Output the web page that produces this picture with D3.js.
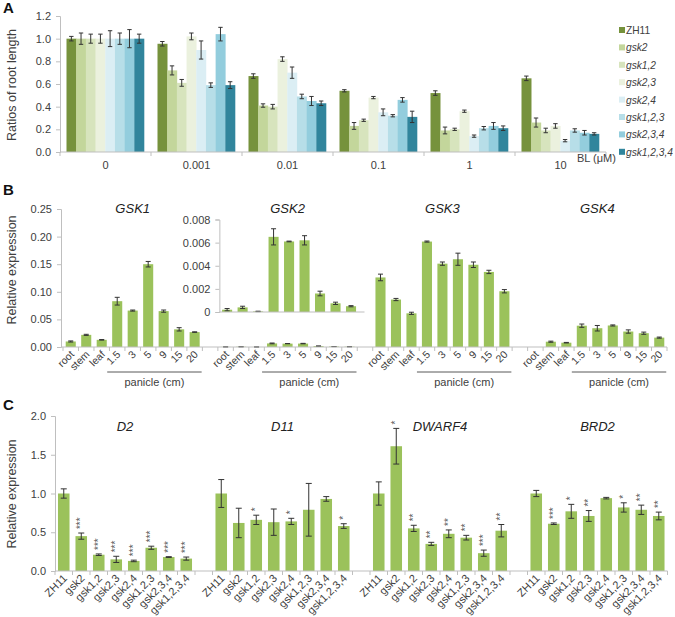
<!DOCTYPE html>
<html><head><meta charset="utf-8">
<script src="https://cdn.jsdelivr.net/npm/d3@7"></script>
<style>
body{margin:0;background:#fff}
text{font-family:"Liberation Sans",Arial,sans-serif}
</style>
</head><body><script>
// ---------------- Panel A data ----------------
const doses = ["0","0.001","0.01","0.1","1","10"];
const genotypes = ["ZH11","gsk2","gsk1,2","gsk2,3","gsk2,4","gsk1,2,3","gsk2,3,4","gsk1,2,3,4"];
const genotypeColors = ["#76923C","#C3D69B","#D7E4BD","#EBF1DE","#DBEEF4","#B7DEE8","#93CDDD","#31859C"];
const ratioZH11   = [1.00,0.955,0.67,0.54,0.52,0.65];
const ratioGsk2   = [1.00,0.72,0.41,0.23,0.19,0.26];
const ratioGsk12  = [1.00,0.61,0.40,0.28,0.20,0.19];
const ratioGsk23  = [1.00,1.02,0.82,0.48,0.36,0.23];
const ratioGsk24  = [1.00,0.90,0.70,0.35,0.14,0.10];
const ratioGsk123 = [1.00,0.59,0.49,0.32,0.21,0.19];
const ratioGsk234 = [1.00,1.04,0.45,0.46,0.23,0.17];
const ratioGsk1234= [1.00,0.59,0.43,0.31,0.21,0.16];
const errZH11   = [0.02,0.02,0.02,0.01,0.02,0.02];
const errGsk2   = [0.05,0.04,0.015,0.03,0.03,0.04];
const errGsk12  = [0.04,0.03,0.02,0.01,0.01,0.02];
const errGsk23  = [0.04,0.03,0.02,0.01,0.01,0.02];
const errGsk24  = [0.07,0.08,0.05,0.03,0.01,0.01];
const errGsk123 = [0.05,0.02,0.02,0.01,0.015,0.015];
const errGsk234 = [0.08,0.06,0.04,0.02,0.03,0.02];
const errGsk1234= [0.04,0.03,0.02,0.05,0.02,0.01];
const ratioTicks = [0,0.2,0.4,0.6,0.8,1.0,1.2];

// ---------------- Panel B data ----------------
const tissues = ["root","stem","leaf","1.5","3","5","9","15","20"];
const genesB = ["GSK1","GSK2","GSK3","GSK4"];
const exprGSK1 = [0.010,0.022,0.013,0.083,0.066,0.150,0.065,0.032,0.027];
const errGSK1  = [0.001,0.001,0.0005,0.007,0.001,0.005,0.002,0.003,0.0005];
const exprGSK2 = [0.0002,0.0004,0.00005,0.0065,0.0061,0.0062,0.0016,0.00075,0.0005];
const errGSK2  = [0.0001,0.0001,0.00002,0.0007,0.00003,0.0004,0.0002,0.0001,0.00005];
const exprGSK3 = [0.126,0.086,0.061,0.191,0.151,0.159,0.149,0.136,0.101];
const errGSK3  = [0.006,0.002,0.002,0.001,0.003,0.011,0.005,0.003,0.003];
const exprGSK4 = [0,0.0096,0.0078,0.0386,0.034,0.039,0.028,0.025,0.017];
const errGSK4  = [0,0.001,0.0005,0.003,0.005,0.001,0.003,0.002,0.001];
const exprTicksB = [0,0.05,0.10,0.15,0.20,0.25];
const insetTicks = [0,0.002,0.004,0.006,0.008];

// ---------------- Panel C data ----------------
const genesC = ["D2","D11","DWARF4","BRD2"];
const exprD2   = [1.00,0.45,0.21,0.15,0.13,0.30,0.18,0.16];
const errD2    = [0.06,0.04,0.01,0.04,0.01,0.02,0.005,0.02];
const starsD2  = ["","***","***","***","***","***","***","***"];
const exprD11  = [1.00,0.62,0.66,0.63,0.64,0.79,0.93,0.58];
const errD11   = [0.18,0.19,0.06,0.17,0.04,0.34,0.03,0.03];
const starsD11 = ["","","*","","*","","","*"];
const exprDWF4 = [1.00,1.61,0.55,0.35,0.48,0.43,0.23,0.52];
const errDWF4  = [0.15,0.23,0.04,0.02,0.05,0.03,0.04,0.08];
const starsDWF4= ["","*","**","**","**","**","***","**"];
const exprBRD2 = [1.00,0.61,0.77,0.71,0.94,0.82,0.79,0.71];
const errBRD2  = [0.04,0.01,0.09,0.07,0.01,0.06,0.06,0.05];
const starsBRD2= ["","***","*","**","","*","**","**"];
const exprTicksC = [0,0.5,1.0,1.5,2.0];

// ---------------- drawing ----------------
const W=675,H=617;
const svg=d3.select("body").append("svg").attr("width",W).attr("height",H);
const axisCol="#BFBFBF", txt="#404040", errCol="#333333", barGreen="#9BC25B";

function styleAxis(g){
  g.select(".domain").attr("stroke",axisCol);
  g.selectAll(".tick line").attr("stroke",axisCol);
  g.selectAll(".tick text").attr("fill",txt).attr("font-size",11);
}
function errBar(g,x,y0,y1,cap){
  g.append("line").attr("x1",x).attr("x2",x).attr("y1",y0).attr("y2",y1).attr("stroke",errCol).attr("stroke-width",1);
  g.append("line").attr("x1",x-cap).attr("x2",x+cap).attr("y1",y0).attr("y2",y0).attr("stroke",errCol).attr("stroke-width",1);
  g.append("line").attr("x1",x-cap).attr("x2",x+cap).attr("y1",y1).attr("y2",y1).attr("stroke",errCol).attr("stroke-width",1);
}
function panelLetter(l,x,y){
  svg.append("text").attr("x",x).attr("y",y).text(l).attr("font-weight","bold").attr("font-size",15).attr("fill","#111");
}
function yTitle(t,x,y){
  svg.append("text").attr("transform",`translate(${x},${y}) rotate(-90)`).attr("text-anchor","middle")
    .attr("font-size",12.5).attr("fill",txt).text(t);
}

// ===== Panel A =====
const ratios=[ratioZH11,ratioGsk2,ratioGsk12,ratioGsk23,ratioGsk24,ratioGsk123,ratioGsk234,ratioGsk1234];
const errsA=[errZH11,errGsk2,errGsk12,errGsk23,errGsk24,errGsk123,errGsk234,errGsk1234];
const xA=d3.scaleBand().domain(doses).range([60,606]);
const xAin=d3.scaleBand().domain(genotypes).range([6.5,xA.bandwidth()-7]);
const yA=d3.scaleLinear().domain([0,1.2]).range([152,16]);
panelLetter("A",3,13);
yTitle("Ratios of root length",16,85);
const gA=svg.append("g");
genotypes.forEach((gt,gi)=>{
  doses.forEach((d,di)=>{
    const v=ratios[gi][di];
    gA.append("rect").attr("x",xA(d)+xAin(gt)).attr("width",xAin.bandwidth()+0.3)
      .attr("y",yA(v)).attr("height",yA(0)-yA(v)).attr("fill",genotypeColors[gi]);
  });
});
genotypes.forEach((gt,gi)=>{
  doses.forEach((d,di)=>{
    const v=ratios[gi][di], e=errsA[gi][di];
    errBar(gA,xA(d)+xAin(gt)+xAin.bandwidth()/2,yA(v-e),yA(v+e),2.2);
  });
});
const ayA=svg.append("g").attr("transform","translate(60,0)")
  .call(d3.axisLeft(yA).tickValues(ratioTicks).tickFormat(d3.format(".1f")).tickSize(4).tickPadding(5));
styleAxis(ayA);
svg.append("line").attr("x1",60).attr("x2",606).attr("y1",152).attr("y2",152).attr("stroke",axisCol);
doses.forEach((d,i)=>{
  svg.append("line").attr("x1",xA(d)).attr("x2",xA(d)).attr("y1",152).attr("y2",156).attr("stroke",axisCol);
  svg.append("text").attr("x",xA(d)+xA.bandwidth()/2).attr("y",169).attr("text-anchor","middle")
    .attr("font-size",11).attr("fill",txt).text(d);
});
svg.append("line").attr("x1",606).attr("x2",606).attr("y1",152).attr("y2",156).attr("stroke",axisCol);
svg.append("text").attr("x",577).attr("y",162).attr("font-size",11).attr("fill",txt).text("BL (\u03BCM)");
// legend
genotypes.forEach((gt,gi)=>{
  const y=30+gi*17.4;
  svg.append("rect").attr("x",619).attr("y",y-3).attr("width",6).attr("height",6).attr("fill",genotypeColors[gi]);
  svg.append("text").attr("x",626).attr("y",y+4).attr("font-size",10.2).attr("fill",txt)
    .attr("font-style",gi===0?"normal":"italic").text(gt);
});

// ===== Panel B =====
const exprB=[exprGSK1,exprGSK2,exprGSK3,exprGSK4];
const errB=[errGSK1,errGSK2,errGSK3,errGSK4];
const slotsB=[];
genesB.forEach((g,gi)=>{tissues.forEach(t=>slotsB.push(g+"|"+t)); if(gi<genesB.length-1) slotsB.push("gap"+gi);});
const xB=d3.scaleBand().domain(slotsB).range([63,667]).paddingInner(0.35).paddingOuter(0.175);
const cB=k=>xB(k)+xB.bandwidth()/2;
const yB=d3.scaleLinear().domain([0,0.25]).range([347,209]);
const yI=d3.scaleLinear().domain([0,0.008]).range([312,219.5]);
panelLetter("B",3,195);
yTitle("Relative expression",16,270);
const gB=svg.append("g");
genesB.forEach((g,gi)=>{
  tissues.forEach((t,ti)=>{
    const v=exprB[gi][ti]; if(v<=0) return;
    const k=g+"|"+t;
    gB.append("rect").attr("x",xB(k)).attr("width",xB.bandwidth()).attr("y",yB(v))
      .attr("height",yB(0)-yB(v)).attr("fill",barGreen);
    const e=errB[gi][ti];
    errBar(gB,cB(k),yB(v-e),yB(v+e),2.5);
  });
});
// inset GSK2
const gI=svg.append("g");
tissues.forEach((t,ti)=>{
  const k="GSK2|"+t, v=exprGSK2[ti], e=errGSK2[ti];
  gI.append("rect").attr("x",xB(k)+1.5).attr("width",xB.bandwidth()).attr("y",yI(v))
    .attr("height",yI(0)-yI(v)).attr("fill",barGreen);
  errBar(gI,cB(k)+1.5,yI(v-e),yI(v+e),2.5);
});
const insetLeft=xB("GSK2|root")-xB.step()*0.175+1.5;
const ayI=svg.append("g").attr("transform",`translate(${insetLeft},0)`)
  .call(d3.axisLeft(yI).tickValues(insetTicks).tickFormat(d=>d===0?"0":d3.format(".3f")(d)).tickSize(4).tickPadding(5));
styleAxis(ayI);
svg.append("line").attr("x1",insetLeft).attr("x2",cB("GSK2|20")+15).attr("y1",yI(0)).attr("y2",yI(0)).attr("stroke",axisCol);
const ayB=svg.append("g").attr("transform","translate(61,0)")
  .call(d3.axisLeft(yB).tickValues(exprTicksB).tickFormat(d3.format(".2f")).tickSize(4).tickPadding(5));
styleAxis(ayB);
svg.append("line").attr("x1",61).attr("x2",667).attr("y1",347).attr("y2",347).attr("stroke",axisCol);
for(let i=0;i<=slotsB.length;i++){
  const xx=xB.range()[0]+xB.step()*i;
  svg.append("line").attr("x1",xx).attr("x2",xx).attr("y1",347).attr("y2",351).attr("stroke",axisCol);
}
genesB.forEach((g,gi)=>{
  tissues.forEach(t=>{
    const k=g+"|"+t;
    svg.append("text").attr("transform",`translate(${cB(k)+4},${355}) rotate(-45)`).attr("text-anchor","end")
      .attr("font-size",10.5).attr("fill",txt).text(t);
  });
  const x1=cB(g+"|1.5")-10, x2=cB(g+"|20")+7;
  svg.append("line").attr("x1",x1).attr("x2",x2).attr("y1",372).attr("y2",372).attr("stroke","#595959");
  svg.append("text").attr("x",(x1+x2)/2).attr("y",386).attr("text-anchor","middle").attr("font-size",11)
    .attr("fill",txt).text("panicle (cm)");
  const mid=(cB(g+"|root")+cB(g+"|20"))/2;
  svg.append("text").attr("x",mid).attr("y",213).attr("text-anchor","middle").attr("font-size",13)
    .attr("font-style","italic").attr("fill","#222").text(g);
});

// ===== Panel C =====
const exprC=[exprD2,exprD11,exprDWF4,exprBRD2];
const errC=[errD2,errD11,errDWF4,errBRD2];
const starsC=[starsD2,starsD11,starsDWF4,starsBRD2];
const slotsC=[];
genesC.forEach((g,gi)=>{genotypes.forEach(t=>slotsC.push(g+"|"+t)); if(gi<genesC.length-1) slotsC.push("gap"+gi);});
const xC=d3.scaleBand().domain(slotsC).range([55,667.5]).paddingInner(0.34).paddingOuter(0.17);
const cC=k=>xC(k)+xC.bandwidth()/2;
const yC=d3.scaleLinear().domain([0,2]).range([571,416]);
panelLetter("C",3,410);
yTitle("Relative expression",16,494);
const gC=svg.append("g");
genesC.forEach((g,gi)=>{
  genotypes.forEach((t,ti)=>{
    const k=g+"|"+t, v=exprC[gi][ti], e=errC[gi][ti];
    gC.append("rect").attr("x",xC(k)).attr("width",xC.bandwidth()).attr("y",yC(v))
      .attr("height",yC(0)-yC(v)).attr("fill",barGreen);
    errBar(gC,cC(k),yC(v-e),yC(v+e),3);
    const s=starsC[gi][ti];
    if(s) gC.append("text").attr("transform",`translate(${cC(k)+3},${yC(v+e)-4}) rotate(-90)`)
      .attr("font-size",10).attr("fill","#595959").text(s);
    svg.append("text").attr("transform",`translate(${cC(k)+4},${579}) rotate(-45)`).attr("text-anchor","end")
      .attr("font-size",11).attr("fill",txt).text(t);
  });
  const mid=(cC(g+"|ZH11")+cC(g+"|gsk1,2,3,4"))/2;
  svg.append("text").attr("x",mid).attr("y",431).attr("text-anchor","middle").attr("font-size",13)
    .attr("font-style","italic").attr("fill","#222").text(g);
});
const ayC=svg.append("g").attr("transform","translate(55,0)")
  .call(d3.axisLeft(yC).tickValues(exprTicksC).tickFormat(d3.format(".1f")).tickSize(4).tickPadding(5));
styleAxis(ayC);
svg.append("line").attr("x1",55).attr("x2",667.5).attr("y1",571).attr("y2",571).attr("stroke",axisCol);
for(let i=0;i<=slotsC.length;i++){
  const xx=xC.range()[0]+xC.step()*i;
  svg.append("line").attr("x1",xx).attr("x2",xx).attr("y1",571).attr("y2",575).attr("stroke",axisCol);
}
</script></body></html>
